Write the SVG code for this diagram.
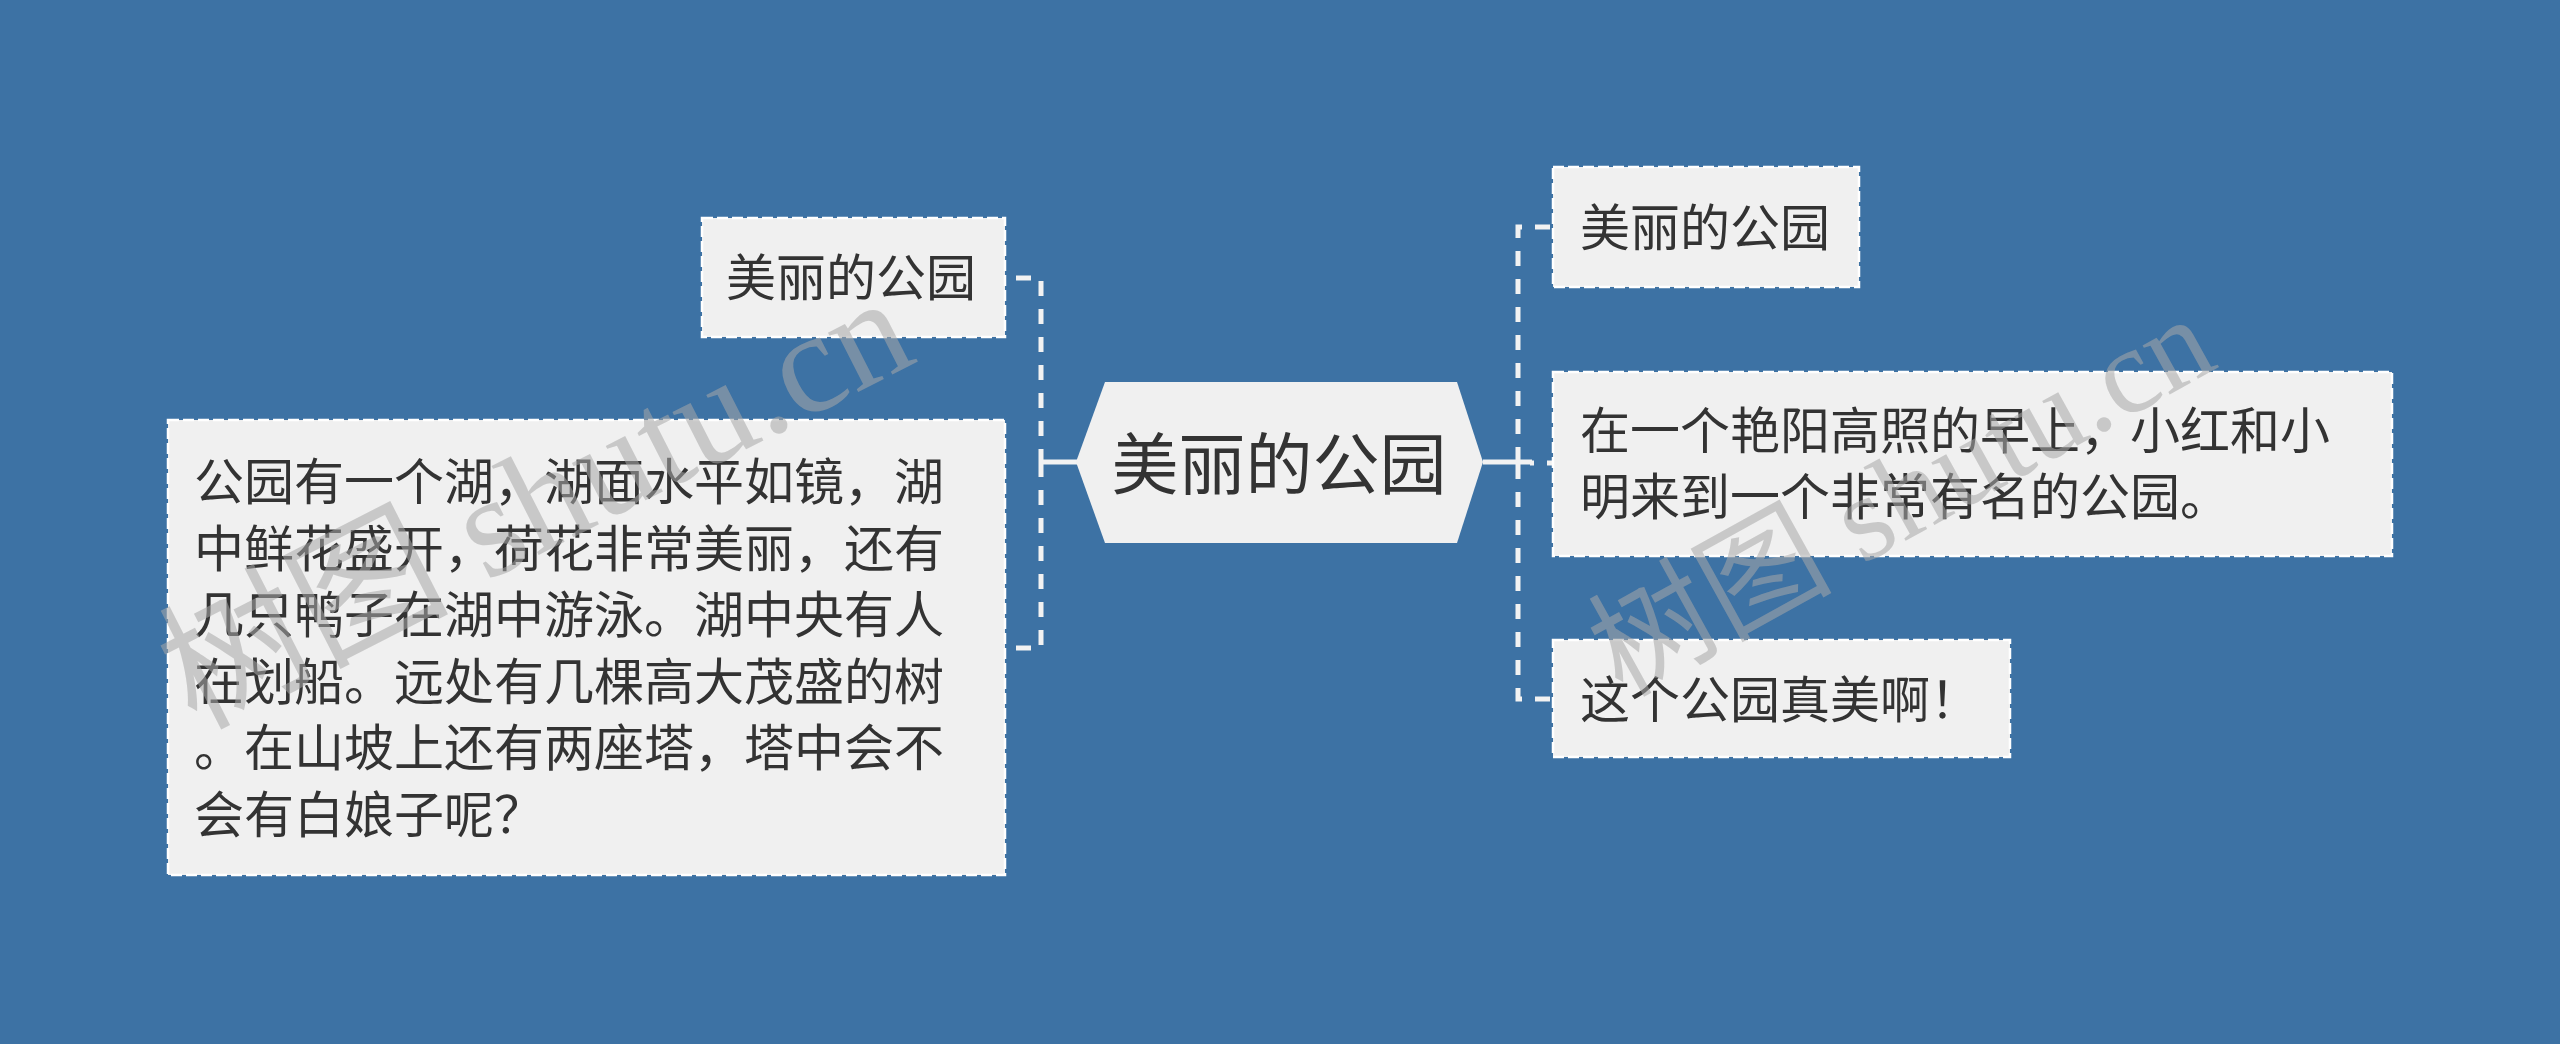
<svg xmlns="http://www.w3.org/2000/svg" width="2560" height="1044" viewBox="0 0 2560 1044">
<style>
.box{fill:#f0f0f0;stroke:#ffffff;stroke-width:2.5;stroke-dasharray:11 4}
.hex{fill:#f0f0f0}
.t{font-family:"Noto Sans CJK SC","Noto Sans",sans-serif;font-size:50px;fill:#333333}
.tc{font-family:"Noto Sans CJK SC","Noto Sans",sans-serif;font-size:67px;fill:#333333}
.ln{fill:none;stroke:#f2f2f2;stroke-width:5;stroke-dasharray:15 13}
.solid{fill:none;stroke:#f2f2f2;stroke-width:5}
.wm{fill:#a7a7a7;fill-opacity:0.55}
.wm1{font-family:"Noto Sans CJK SC",sans-serif}
.wm2{font-family:"Liberation Serif",serif}
</style>
<rect x="0" y="0" width="2560" height="1044" fill="#3d72a4"/>
<g id="connectors">
<path class="ln" d="M1005 278 H1041 V462" stroke-dashoffset="17"/>
<path class="ln" d="M1005 648 H1041 V462" stroke-dashoffset="17"/>
<path class="solid" d="M1039 462 H1078"/>
<path class="ln" d="M1553 227 H1518 V462" stroke-dashoffset="25"/>
<path class="ln" d="M1553 699 H1518 V462" stroke-dashoffset="25"/>
<path class="ln" d="M1553 463 H1530" stroke-dashoffset="9"/>
<path class="solid" d="M1483 462 H1532"/>
</g>
<g id="center">
<polygon class="hex" points="1076,462 1105,382 1457,382 1483,462 1457,543 1105,543"/>
<text class="tc" x="1279" y="489" text-anchor="middle">美丽的公园</text>
</g>
<g id="left1">
<rect class="box" x="702" y="218" width="303" height="119"/>
<text class="t" x="726" y="296">美丽的公园</text>
</g>
<g id="left2">
<rect class="box" x="168" y="420" width="837" height="455"/>
<text class="t" x="194" y="500">公园有一个湖，湖面水平如镜，湖</text>
<text class="t" x="194" y="566.5">中鲜花盛开，荷花非常美丽，还有</text>
<text class="t" x="194" y="633">几只鸭子在湖中游泳。湖中央有人</text>
<text class="t" x="194" y="699.5">在划船。远处有几棵高大茂盛的树</text>
<text class="t" x="194" y="766">。在山坡上还有两座塔，塔中会不</text>
<text class="t" x="194" y="832.5">会有白娘子呢？</text>
</g>
<g id="right1">
<rect class="box" x="1553" y="167" width="306" height="120"/>
<text class="t" x="1580" y="246">美丽的公园</text>
</g>
<g id="right2">
<rect class="box" x="1553" y="372" width="839" height="184"/>
<text class="t" x="1580" y="449">在一个艳阳高照的早上，小红和小</text>
<text class="t" x="1580" y="515">明来到一个非常有名的公园。</text>
</g>
<g id="right3">
<rect class="box" x="1553" y="640" width="457" height="117"/>
<text class="t" x="1580" y="717.5">这个公园真美啊！</text>
</g>
<g id="watermark">
<text class="wm" transform="translate(195,730) rotate(-27)" font-size="145"><tspan class="wm1">树图</tspan><tspan class="wm2"> shutu.cn</tspan></text>
<text class="wm" transform="translate(1622,698) rotate(-29)" font-size="122"><tspan class="wm1">树图</tspan><tspan class="wm2"> shutu.cn</tspan></text>
</g>
</svg>
